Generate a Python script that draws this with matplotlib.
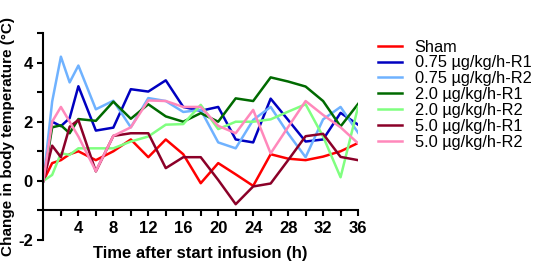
import numpy as np
import matplotlib
matplotlib.use("Agg")
import matplotlib.pyplot as plt

plt.rcParams['font.family'] = ['Liberation Sans', 'DejaVu Sans']

# hours after start of infusion
hours = [0, 1, 2, 3, 4, 6, 8, 10, 12, 14, 16, 18, 20, 22, 24, 26, 28, 30, 32, 34, 36]

sham = [0, 0.6, 0.7, 0.9, 1.0, 0.7, 1.0, 1.4, 0.8, 1.4, 0.9, -0.08, 0.6, 0.22, -0.17, 0.9, 0.75, 0.7, 0.82, 1.0, 1.28]
r1_075 = [0, 2.0, 1.85, 2.12, 3.2, 1.7, 1.8, 3.1, 3.02, 3.4, 2.5, 2.37, 2.5, 1.4, 1.3, 2.78, 2.06, 1.33, 1.4, 2.3, 1.9]
r2_075 = [0, 2.68, 4.2, 3.33, 3.9, 2.42, 2.71, 1.81, 2.8, 2.7, 2.33, 2.4, 1.3, 1.1, 2.06, 2.5, 1.6, 0.8, 2.08, 2.5, 1.63]
r1_20 = [0, 1.81, 1.88, 1.61, 2.09, 2.03, 2.68, 2.1, 2.59, 2.18, 2.0, 2.29, 2.0, 2.79, 2.7, 3.5, 3.36, 3.19, 2.7, 1.84, 2.6]
r2_20 = [0, 0.2, 0.93, 0.88, 1.1, 1.1, 1.1, 1.33, 1.5, 1.9, 1.92, 2.57, 1.75, 2.0, 2.0, 2.08, 2.34, 2.59, 1.5, 0.12, 2.5]
r1_50 = [0, 1.19, 0.8, 1.83, 2.06, 0.32, 1.52, 1.61, 1.61, 0.43, 0.8, 0.8, 0.03, -0.79, -0.19, -0.09, 0.7, 1.51, 1.59, 0.81, 0.7]
r2_50 = [0, 2.0, 2.5, 2.0, 1.5, 0.33, 1.52, 1.81, 2.72, 2.7, 2.5, 2.5, 1.86, 1.61, 2.4, 0.93, 1.82, 2.7, 2.23, 1.81, 1.27]

labels = ["Sham", "0.75 µg/kg/h-R1", "0.75 µg/kg/h-R2", "2.0 µg/kg/h-R1",
          "2.0 µg/kg/h-R2", "5.0 µg/kg/h-R1", "5.0 µg/kg/h-R2"]
colors = ["#ff0000", "#0000c0", "#6fb2ff", "#006a00", "#80ff80", "#8b0028", "#ff88bb"]
series = [sham, r1_075, r2_075, r1_20, r2_20, r1_50, r2_50]

fig = plt.figure(figsize=(5.36, 2.73), dpi=100)
ax = fig.add_axes([0.081, 0.121, 0.587, 0.758])

for vals, lab, col in zip(series, labels, colors):
    ax.plot(hours, vals, color=col, lw=1.8, label=lab)

ax.set_xlim(0, 36)
ax.set_ylim(-2, 5)
ax.spines['top'].set_visible(False)
ax.spines['right'].set_visible(False)
ax.spines['bottom'].set_position(('data', -1))
ax.spines['bottom'].set_linewidth(1.5)
ax.spines['left'].set_linewidth(1.5)

ax.set_xticks([4, 8, 12, 16, 20, 24, 28, 32, 36])
ax.set_xticks([2, 6, 10, 14, 18, 22, 26, 30, 34], minor=True)
ax.set_yticks([-2, 0, 2, 4])
ax.set_yticks([-1, 1, 3, 5], minor=True)
ax.tick_params(which='both', direction='out', width=1.5, length=4, labelsize=12)
for t in ax.get_xticklabels() + ax.get_yticklabels():
    t.set_fontweight('bold')
ax.set_yticklabels(['-2', '0', '2', '4'])

ax.set_xlabel("Time after start infusion (h)", fontsize=12, fontweight='bold')
ax.set_ylabel("Change in body temperature (°C)", fontsize=11, fontweight='bold')
ax.xaxis.set_label_coords(0.5, -0.03)
ax.yaxis.set_label_coords(-0.09, 0.5)

ax.legend(loc='upper left', bbox_to_anchor=(1.042, 1.0), frameon=False, fontsize=11.8,
          handlelength=1.5, labelspacing=0.05, handletextpad=0.75, borderaxespad=0)

fig.savefig("out.png", dpi=100)
